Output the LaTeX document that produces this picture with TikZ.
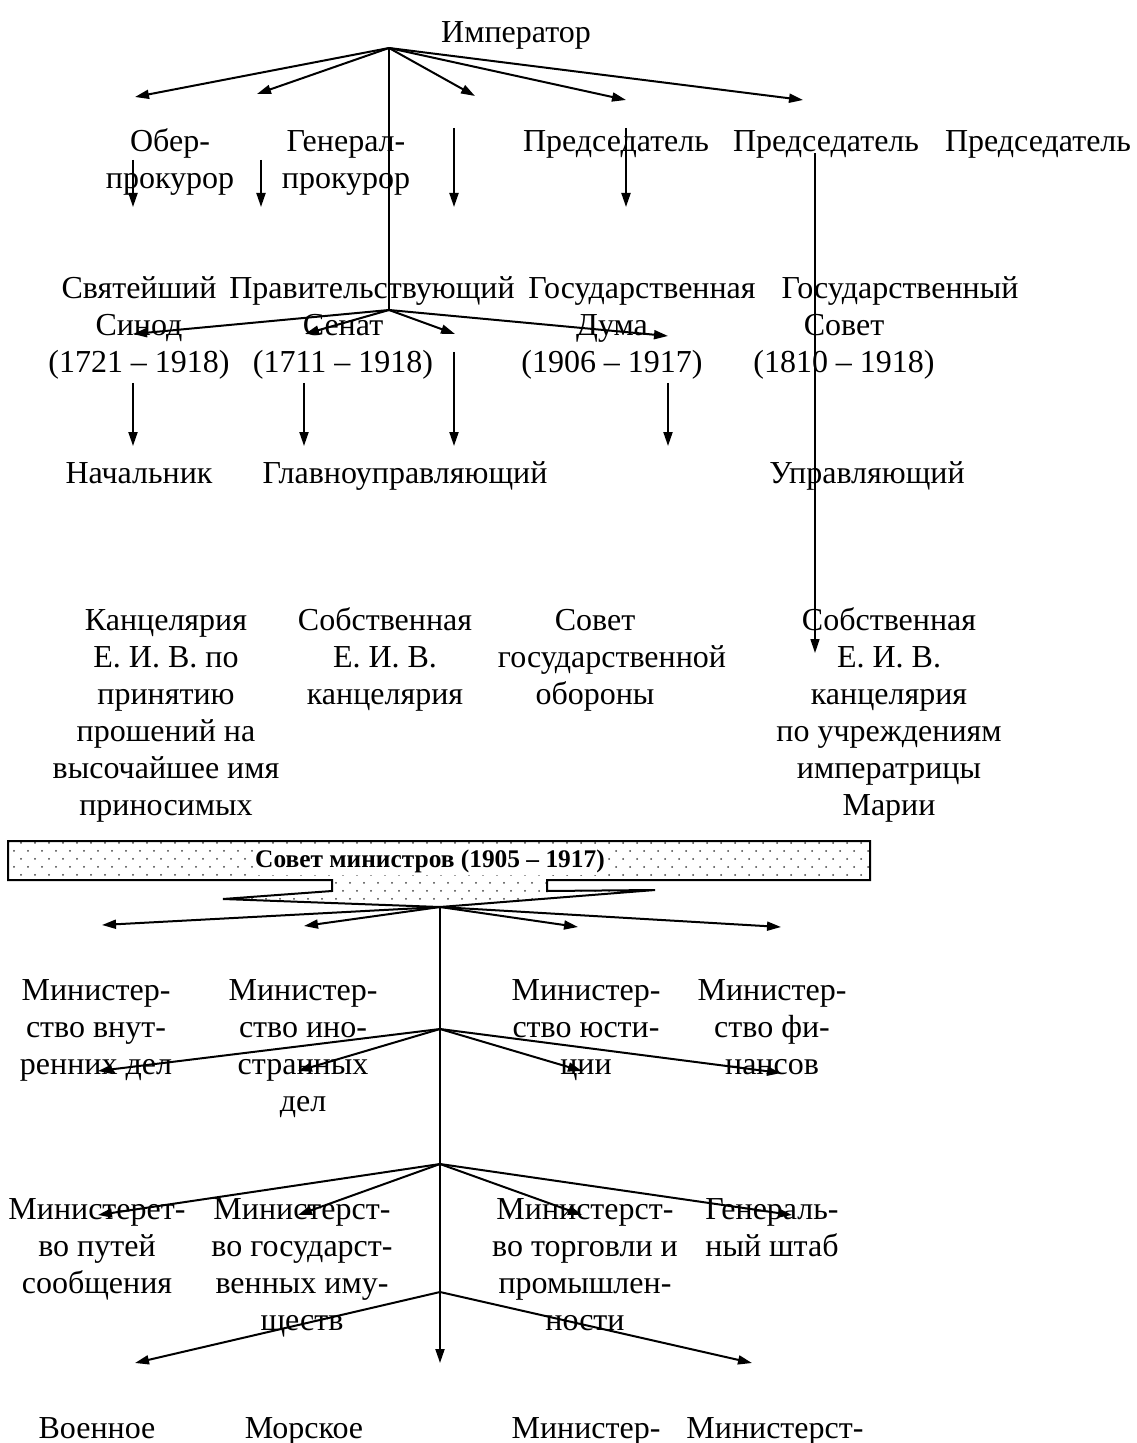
\documentclass[tikz,border=0pt]{standalone}
\usepackage{fontspec}
\setmainfont{Liberation Serif}
\usetikzlibrary{arrows.meta,patterns}

\pgfdeclarepatternformonly{sovdots}{\pgfqpoint{-1pt}{-1pt}}{\pgfqpoint{5pt}{5pt}}{\pgfqpoint{7pt}{8pt}}{%
  \pgfpathcircle{\pgfqpoint{0pt}{0pt}}{0.5pt}%
  \pgfpathcircle{\pgfqpoint{3.5pt}{4pt}}{0.5pt}%
  \pgfusepath{fill}}

\begin{document}
\begin{tikzpicture}[x=0.5pt,y=-0.5pt,line width=1pt,>={Triangle[length=7pt,width=4.5pt]},
  lbl/.style={align=center,anchor=north,inner sep=0pt,font=\fontsize{16}{18.5}\selectfont}]
\useasboundingbox (0,0) rectangle (1136,1443);

\node[lbl] (imp) at (516,16) {\strut Император};
\node[lbl] (ober) at (170,125) {\strut Обер-\\прокурор};
\node[lbl] (genpr) at (346,125) {\strut Генерал-\\прокурор};
\node[lbl] (pred1) at (616,125) {\strut Председатель};
\node[lbl] (pred2) at (826,125) {\strut Председатель};
\node[lbl] (pred3) at (1038,125) {\strut Председатель};

\node[lbl] (sinod) at (139,272) {\strut Святейший\\Синод\\(1721 – 1918)};
\node[lbl] (senat) at (343,272) {\strut\hspace*{29pt}Правительствующий\\Сенат\\(1711 – 1918)};
\node[lbl] (duma) at (612,272) {\strut\hspace*{30pt}Государственная\\Дума\\(1906 – 1917)};
\node[lbl] (gsovet) at (844,272) {\strut\hspace*{56pt}Государственный\\Совет\\(1810 – 1918)};

\node[lbl] (nach) at (139,457) {\strut Начальник};
\node[lbl] (glavn) at (405,457) {\strut Главноуправляющий};
\node[lbl] (uprav) at (867,457) {\strut Управляющий};

\node[lbl] (kanc) at (166,604) {\strut Канцелярия\\Е. И. В. по\\принятию\\прошений на\\высочайшее имя\\приносимых};
\node[lbl] (sobst) at (385,604) {\strut Собственная\\Е. И. В.\\канцелярия};
\node[lbl] (obor) at (595,604) {\strut Совет\\\hspace*{17pt}государственной\\обороны};
\node[lbl] (marii) at (889,604) {\strut Собственная\\Е. И. В.\\канцелярия\\по учреждениям\\императрицы\\Марии};

\coordinate (v) at (440,907);
\draw[pattern=sovdots,pattern color=black!75] (8,841) -- (870,841) -- (870,880) -- (547,880) -- (547,891)
  -- (655,890) -- (v) -- (223,899) -- (332,891) -- (332,880) -- (8,880) -- cycle;
\node[font=\bfseries\fontsize{12.7}{15}\selectfont,fill=white,inner sep=1pt] (sovmin) at (430,861) {Совет министров (1905 – 1917)};

\node[lbl] (vnutr) at (96,974) {\strut Министер-\\ство внут-\\ренних дел};
\node[lbl] (inostr) at (303,974) {\strut Министер-\\ство ино-\\странных\\дел};
\node[lbl] (yust) at (586,974) {\strut Министер-\\ство юсти-\\ции};
\node[lbl] (fin) at (772,974) {\strut Министер-\\ство фи-\\нансов};

\node[lbl] (puti) at (97,1193) {\strut Министерет-\\во путей\\сообщения};
\node[lbl] (imusch) at (302,1193) {\strut Министерст-\\во государст-\\венных иму-\\ществ};
\node[lbl] (torg) at (585,1193) {\strut Министерст-\\во торговли и\\промышлен-\\ности};
\node[lbl] (genshtab) at (772,1193) {\strut Генераль-\\ный штаб};

\node[lbl] (voen) at (97,1412) {\strut Военное};
\node[lbl] (morsk) at (304,1412) {\strut Морское};
\node[lbl] (min3) at (586,1412) {\strut Министер-};
\node[lbl] (min4) at (775,1412) {\strut Министерст-};

\coordinate (h0) at (389,48);
\coordinate (h1) at (389,310);
\draw (h0) -- (h1);
\foreach \n/\x/\y in {e1/135/97,e2/257/94,e3/475/96,e4/626/100,e5/803/100}
  {\coordinate (\n) at (\x,\y); \draw[->] (h0) -- (\n);}
\foreach \n/\x/\y in {s1/133/334,s2/305/334,s3/455/334,s4/668/336}
  {\coordinate (\n) at (\x,\y); \draw[->] (h1) -- (\n);}
\foreach \n/\x/\ya/\yb in {a/133/160/207,b/261/160/207,c/454/128/207,d/626/128/207,
    f/133/383/446,g/304/383/446,k/454/352/446,m/668/383/446}
  {\coordinate (\n0) at (\x,\ya); \coordinate (\n1) at (\x,\yb); \draw[->] (\n0) -- (\n1);}
\coordinate (p0) at (815,153);
\coordinate (p1) at (815,653);
\draw[->,line width=0.8pt] (p0) -- (p1);

\coordinate (hb) at (440,1029);
\coordinate (hc) at (440,1164);
\coordinate (hd) at (440,1292);
\coordinate (dn) at (440,1363);
\draw[->] (v) -- (dn);
\foreach \n/\x/\y in {ta1/102/925,ta2/304/926,ta3/578/927,ta4/781/927}
  {\coordinate (\n) at (\x,\y); \draw[->] (v) -- (\n);}
\foreach \n/\x/\y in {tb1/98/1071,tb2/298/1071,tb3/582/1071,tb4/781/1073}
  {\coordinate (\n) at (\x,\y); \draw[->] (hb) -- (\n);}
\foreach \n/\x/\y in {tc1/98/1215,tc2/298/1215,tc3/582/1215,tc4/792/1215}
  {\coordinate (\n) at (\x,\y); \draw[->] (hc) -- (\n);}
\foreach \n/\x/\y in {td1/135/1363,td2/752/1363}
  {\coordinate (\n) at (\x,\y); \draw[->] (hd) -- (\n);}
\end{tikzpicture}
\end{document}
